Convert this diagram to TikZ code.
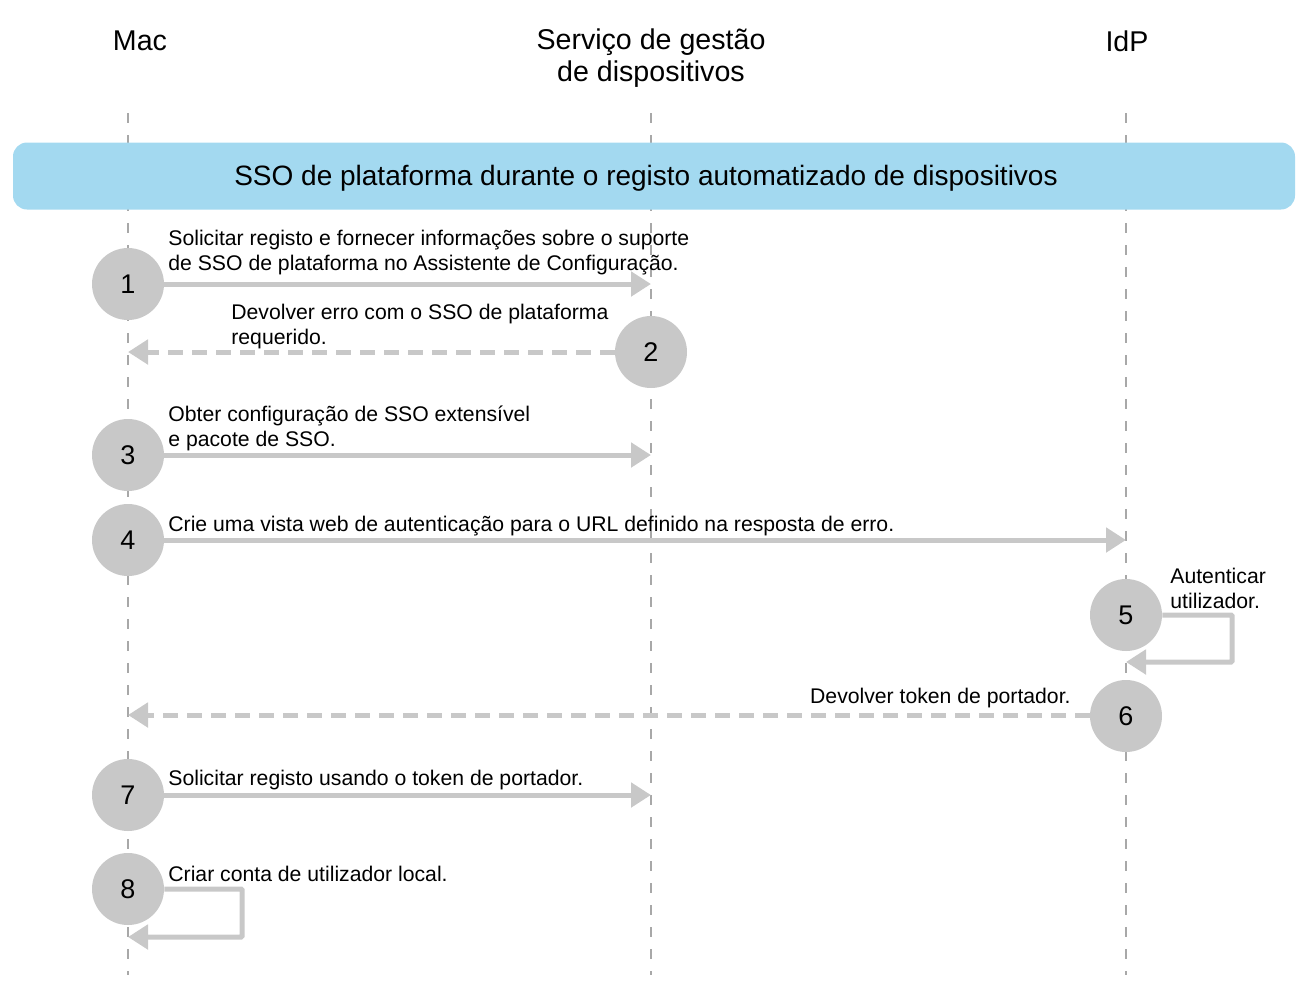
\documentclass[tikz,border=0pt]{standalone}
\usepackage{fontspec}
\setmainfont{Liberation Sans}
\usetikzlibrary{arrows.meta}
\definecolor{stepgray}{HTML}{C8C8C8}
\definecolor{bannerblue}{HTML}{A3D9F0}
\definecolor{lifegray}{HTML}{A8A8A8}
\begin{document}
\begin{tikzpicture}[x=0.5pt,y=-0.5pt,
  stepcircle/.style={circle,fill=stepgray,minimum size=36pt,inner sep=0pt,font=\fontsize{13.5}{15}\selectfont},
  msg/.style={draw=stepgray,line width=2.5pt,-{Triangle[length=10pt,width=12pt]}},
  ret/.style={msg,dash pattern=on 7.5pt off 4.5pt},
  loopmsg/.style={msg,rounded corners=0.5pt},
  lifeline/.style={draw=lifegray,line width=0.7pt,dash pattern=on 5pt off 6pt},
  lbl/.style={anchor=west,align=left,inner sep=0pt,font=\fontsize{10.6}{12.5}\selectfont},
  head/.style={align=center,inner sep=0pt,font=\fontsize{14.3}{16}\selectfont}]
\useasboundingbox (0,0) rectangle (1303,987);
% headers
\node[head] (hmac) at (140,41) {Mac};
\node[head] (hsvc) at (651,58) {Serviço de gestão\\de dispositivos};
\node[head] (hidp) at (1127,41) {IdP};
% lifelines
\coordinate (macT) at (128,113); \coordinate (macB) at (128,975);
\coordinate (svcT) at (651,113); \coordinate (svcB) at (651,975);
\coordinate (idpT) at (1126,113); \coordinate (idpB) at (1126,975);
\draw[lifeline] (macT) -- (macB);
\draw[lifeline] (svcT) -- (svcB);
\draw[lifeline] (idpT) -- (idpB);
% banner
\node[fill=bannerblue,rounded corners=7pt,minimum width=641pt,minimum height=33.5pt,inner sep=0pt] (banner) at (654,176) {};
\node[inner sep=0pt,font=\fontsize{14}{16}\selectfont] (btext) at (646,178) {SSO de plataforma durante o registo automatizado de dispositivos};
% circles
\node[stepcircle] (c1) at (128,284) {1};
\node[stepcircle] (c2) at (651,352) {2};
\node[stepcircle] (c3) at (128,455) {3};
\node[stepcircle] (c4) at (128,540) {4};
\node[stepcircle] (c5) at (1126,615) {5};
\node[stepcircle] (c6) at (1126,716) {6};
\node[stepcircle] (c7) at (128,795) {7};
\node[stepcircle] (c8) at (128,889) {8};
% endpoints
\coordinate (e1) at (651,284);
\coordinate (e2) at (128,352);
\coordinate (e3) at (651,455);
\coordinate (e4) at (1126,540);
\coordinate (e5) at (1126,662);
\coordinate (e6) at (128,715);
\coordinate (e7) at (651,795);
\coordinate (e8) at (128,937);
% messages
\draw[msg] (c1.east) -- (e1);
\draw[ret] (c2.west) -- (e2);
\draw[msg] (c3.east) -- (e3);
\draw[msg] (c4.east) -- (e4);
\draw[loopmsg] (c5.east) -- (1232,615) -- (1232,662) -- (e5);
\draw[ret] (c6.west |- e6) -- (e6);
\draw[msg] (c7.east) -- (e7);
\draw[loopmsg] (c8.east) -- (242,889) -- (242,937) -- (e8);
% labels
\node[lbl] (t1) at (168,252.5) {Solicitar registo e fornecer informações sobre o suporte\\de SSO de plataforma no Assistente de Configuração.};
\node[lbl] (t2) at (231,326.5) {Devolver erro com o SSO de plataforma\\requerido.};
\node[lbl] (t3) at (168,428.5) {Obter configuração de SSO extensível\\e pacote de SSO.};
\node[lbl] (t4) at (168,526) {Crie uma vista web de autenticação para o URL definido na resposta de erro.};
\node[lbl] (t5) at (1170,588.5) {Autenticar\\utilizador.};
\node[lbl,anchor=east] (t6) at (1071,698) {Devolver token de portador.};
\node[lbl] (t7) at (168,780) {Solicitar registo usando o token de portador.};
\node[lbl] (t8) at (168,874) {Criar conta de utilizador local.};
\end{tikzpicture}
\end{document}
